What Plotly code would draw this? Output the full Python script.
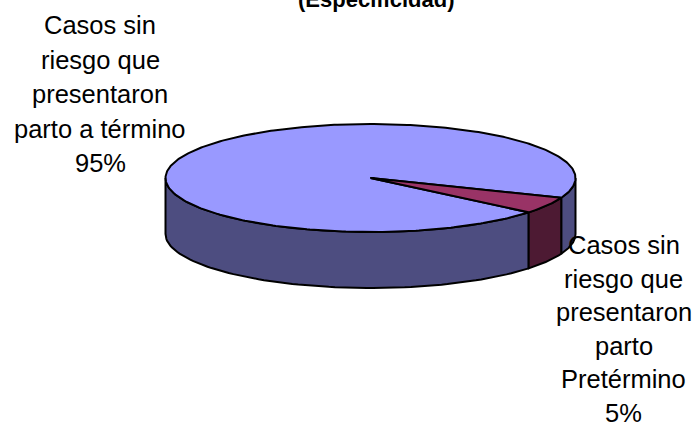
import numpy as np
import plotly.graph_objects as go

categories = ["Casos sin riesgo que presentaron parto a término",
              "Casos sin riesgo que presentaron parto Pretérmino"]
values = [95, 5]
title_text = "(Especificidad)"
left_label = ["Casos sin", "riesgo que", "presentaron", "parto a término", "95%"]
right_label = ["Casos sin", "riesgo que", "presentaron", "parto", "Pretérmino", "5%"]

CX, CY, RX, RY, DEPTH = 370.5, 178, 205, 54, 56
START = 21.5  # degrees clockwise from east, where the small slice begins
TOP = ["#9999FF", "#993366"]
SIDE = ["#4D4D80", "#4D1A33"]
LINE = dict(color="black", width=2)


def ell(t, dy=0):
    r = np.radians(t)
    return CX + RX * np.cos(r), CY + RY * np.sin(r) + dy


def side(a, b):
    t = np.linspace(a, b, 80)
    x, y = ell(t)
    xb, yb = ell(t[::-1], DEPTH)
    return np.r_[x, xb, x[0]], np.r_[y, yb, y[0]]


def wedge(a, b):
    t = np.linspace(a, b, 400)
    x, y = ell(t)
    return np.r_[CX, x, CX], np.r_[CY, y, CY]


sweep = 360 * values[1] / sum(values)
small = (START, START + sweep)
big = (START + sweep, START + 360)

fig = go.Figure()


def add(xy, color, name):
    fig.add_trace(go.Scatter(x=xy[0], y=xy[1], mode="lines", fill="toself", fillcolor=color,
                             line=LINE, name=name, hoverinfo="name", showlegend=False))


# visible front walls only (screen-down half of the ellipse)
add(side(0, small[0]), SIDE[0], categories[0])
add(side(small[1], 180), SIDE[0], categories[0])
add(side(*small), SIDE[1], categories[1])
add(wedge(*big), TOP[0], categories[0])
add(wedge(*small), TOP[1], categories[1])


def label(lines, cx, y0, step):
    for i, s in enumerate(lines):
        fig.add_annotation(x=cx, y=y0 + i * step, text=s, showarrow=False, xanchor="center",
                           yanchor="middle", font=dict(family="Liberation Sans", size=25.5, color="black"))


label(left_label, 100, 25, 34.5)
label(right_label, 623.5, 245, 33.6)
fig.add_annotation(x=376, y=0, yshift=1, text="<b>%s</b>" % title_text, showarrow=False, xanchor="center",
                   yanchor="middle", font=dict(family="Liberation Sans", size=22, color="black"))

fig.update_layout(width=694, height=423, margin=dict(l=0, r=0, t=0, b=0),
                  paper_bgcolor="white", plot_bgcolor="white", showlegend=False,
                  xaxis=dict(range=[0, 694], visible=False),
                  yaxis=dict(range=[423, 0], visible=False))
fig.write_html("out.html", config={"displayModeBar": False},
               post_script="document.body.style.margin='0';")
